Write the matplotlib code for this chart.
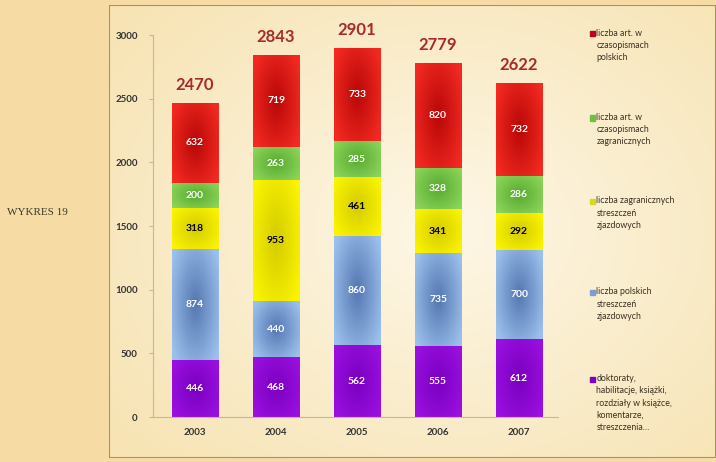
import numpy as np
import matplotlib.pyplot as plt
from matplotlib.colors import to_rgb
from matplotlib.patches import Rectangle

years = ["2003", "2004", "2005", "2006", "2007"]

# stacked from the bottom up
doktoraty = [446, 468, 562, 555, 612]
pl_streszczenia = [874, 440, 860, 735, 700]
zagr_streszczenia = [318, 953, 461, 341, 292]
art_zagraniczne = [200, 263, 285, 328, 286]
art_polskie = [632, 719, 733, 820, 732]

series = [
    (doktoraty, "doktoraty,\nhabilitacje, książki,\nrozdziały w książce,\nkomentarze,\nstreszczenia…"),
    (pl_streszczenia, "liczba polskich\nstreszczeń\nzjazdowych"),
    (zagr_streszczenia, "liczba zagranicznych\nstreszczeń\nzjazdowych"),
    (art_zagraniczne, "liczba art. w\nczasopismach\nzagranicznych"),
    (art_polskie, "liczba art. w\nczasopismach\npolskich"),
]
# (centre, edge, legend swatch, label colour)
styles = [
    ("#7a00c0", "#9a10e0", "#8000c8", "white"),
    ("#5577b2", "#9cc0ec", "#7b9fd4", "white"),
    ("#d4cc00", "#fbf400", "#d8d820", "black"),
    ("#58aa30", "#8cd45a", "#70c040", "white"),
    ("#b80808", "#f42a22", "#c00020", "white"),
]

plt.rcParams["font.family"] = ["Lato", "DejaVu Sans"]
fig = plt.figure(figsize=(7.16, 4.62), dpi=100)
fig.patch.set_facecolor("#f6dca4")

# panel background with a soft radial glow
bg = fig.add_axes([0.152, 0.008, 0.848, 0.982], zorder=-5)
yy, xx = np.mgrid[0:1:200j, 0:1:300j]
r = np.clip(np.hypot((xx - 0.55) / 0.75, (yy - 0.5) / 0.8), 0, 1)
c0, c1 = np.array(to_rgb("#fdf7e6")), np.array(to_rgb("#f7e2b0"))
bg.imshow(c0 * (1 - r[..., None]) + c1 * r[..., None], aspect="auto",
          extent=[0, 1, 0, 1])
bg.add_patch(Rectangle((0, 0), 1, 1, transform=bg.transAxes, fill=False,
                       edgecolor="#a89060", lw=1.5))
bg.set_axis_off()

ax = fig.add_axes([0.2137, 0.0974, 0.5655, 0.8268])
ax.patch.set_alpha(0)
x = np.arange(len(years))
bottom = np.zeros(len(years))
for (vals, label), (cc, ce, sw, tc) in zip(series, styles):
    bars = ax.bar(x, vals, 0.57, bottom=bottom, color=sw, linewidth=0, zorder=2)
    # shaded fill: darker in the middle, brighter towards the edges
    cc, ce = np.array(to_rgb(cc)), np.array(to_rgb(ce))
    v, u = np.mgrid[0:1:60j, 0:1:40j]
    t = np.clip(np.hypot((u - 0.5) / 0.6, (v - 0.5) / 0.7), 0, 1)[..., None]
    grad = cc * (1 - t) + ce * t
    for b in bars:
        im = ax.imshow(grad, aspect="auto", zorder=2.5,
                       extent=[b.get_x(), b.get_x() + b.get_width(),
                               b.get_y(), b.get_y() + b.get_height()])
        im.set_clip_path(b)
    for xi, bi, vi in zip(x, bottom, vals):
        ax.text(xi, bi + vi / 2, str(vi), ha="center", va="center",
                fontsize=7.5, fontweight="bold", color=tc, zorder=4)
    bottom += np.array(vals)

for xi, tot in zip(x, bottom):
    ax.annotate(f"{int(tot)}", (xi, tot), xytext=(0, 7), textcoords="offset points",
                ha="center", va="bottom", fontsize=12, fontweight="bold",
                color="#a82a2a")

ax.set_xlim(-0.52, 4.48)
ax.set_ylim(0, 3000)
ax.set_yticks(range(0, 3001, 500))
ax.set_xticks(x)
ax.set_xticklabels(years)
for s in ["top", "right"]:
    ax.spines[s].set_visible(False)
ax.spines["left"].set_color("#c8b890")
ax.spines["bottom"].set_color("#c8b890")
ax.tick_params(axis="y", labelsize=7, colors="#c8b890", labelcolor="#333333",
               length=3, pad=8)
ax.tick_params(axis="x", labelsize=7, length=0, labelcolor="#333333", pad=8)
for lbl in ax.get_xticklabels() + ax.get_yticklabels():
    lbl.set_fontweight("bold")

# legend on the right, top series first
leg_y = [0.928, 0.745, 0.565, 0.368, 0.18]
for ly, (vals, label), (_, _, sw, _) in zip(leg_y, series[::-1], styles[::-1]):
    fig.patches.append(Rectangle((0.8245, ly - 0.006), 0.0065, 0.011,
                                 transform=fig.transFigure, color=sw))
    fig.text(0.833, ly + 0.01, label, fontsize=6.3, color="#3a3020",
             va="top", ha="left", linespacing=1.45)

fig.text(0.01, 0.54, "WYKRES 19", family="Liberation Serif", fontsize=8,
         color="#3a3a2a", va="center")

fig.savefig("out.png", dpi=100, facecolor=fig.get_facecolor())
